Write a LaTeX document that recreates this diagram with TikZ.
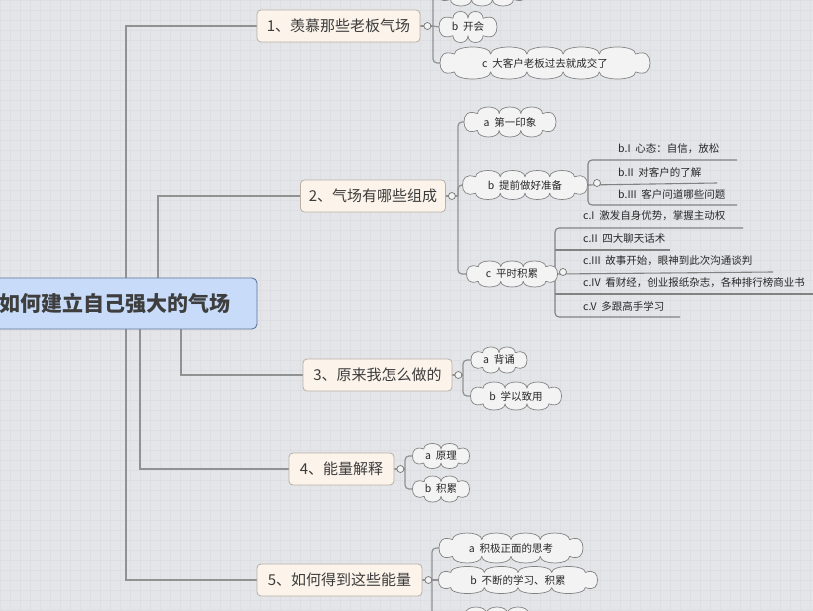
\documentclass[tikz,border=0pt]{standalone}
\usepackage{fontspec}
\setmainfont{Noto Sans CJK SC}
\pgfdeclarelayer{bglayer}
\pgfdeclarelayer{cloudlayer}
\pgfsetlayers{bglayer,cloudlayer,main}
\definecolor{bg}{RGB}{227,229,232}
\definecolor{gridc}{RGB}{220,222,225}
\definecolor{connc}{RGB}{145,145,145}
\definecolor{rootfill}{RGB}{200,220,250}
\definecolor{rootline}{RGB}{95,115,155}
\definecolor{roottext}{RGB}{62,62,62}
\definecolor{topfill}{RGB}{252,244,235}
\definecolor{topline}{RGB}{185,175,165}
\definecolor{toptext}{RGB}{60,60,60}
\definecolor{cloudfill}{RGB}{243,243,243}
\definecolor{cloudline}{RGB}{130,130,130}
\definecolor{txt}{RGB}{40,40,40}
% name, cx, cy, W, H, bumps, text
\newcommand\cloudnode[7]{%
  \node[cloudtext, minimum width=#4pt, minimum height=#5pt] (#1) at (#2,#3) {#7};
  \begin{pgfonlayer}{cloudlayer}
  \pgfmathsetmacro\cxa{#2-#4/2}\pgfmathsetmacro\cxb{#2+#4/2}%
  \pgfmathsetmacro\ch{#5*0.22}%
  \pgfmathsetmacro\ce{#5*0.45}%
  \pgfmathsetmacro\cbw{(#4-2*\ce)/#6}%
  \pgfmathsetmacro\cyt{#3-#5/2+\ch}%
  \pgfmathsetmacro\cyb{#3+#5/2-\ch}%
  \pgfmathsetmacro\ck{4/3*\ch}%
  \filldraw[cloudshape] (\cxa,#3)
     .. controls (\cxa,{#3-0.22*#5}) and ({\cxa+0.25*\ce},{\cyt-0.12*#5}) .. ({\cxa+\ce},\cyt)
     \foreach \ci in {1,...,#6} { .. controls ({\cxa+\ce+(\ci-1)*\cbw},{\cyt-\ck}) and ({\cxa+\ce+\ci*\cbw},{\cyt-\ck}) .. ({\cxa+\ce+\ci*\cbw},\cyt) }
     .. controls ({\cxb-0.25*\ce},{\cyt-0.12*#5}) and (\cxb,{#3-0.22*#5}) .. (\cxb,#3)
     .. controls (\cxb,{#3+0.22*#5}) and ({\cxb-0.25*\ce},{\cyb+0.12*#5}) .. ({\cxb-\ce},\cyb)
     \foreach \ci in {1,...,#6} { .. controls ({\cxb-\ce-(\ci-1)*\cbw},{\cyb+\ck}) and ({\cxb-\ce-\ci*\cbw},{\cyb+\ck}) .. ({\cxb-\ce-\ci*\cbw},\cyb) }
     .. controls ({\cxa+0.25*\ce},{\cyb+0.12*#5}) and (\cxa,{#3+0.22*#5}) .. cycle;
  \end{pgfonlayer}}
\begin{document}
\begin{tikzpicture}[x=1pt,y=-1pt,
  conn/.style={draw=connc, line width=1.2pt},
  uline/.style={draw=connc!90!black, line width=1.1pt, rounded corners=4pt},
  root/.style={rectangle, rounded corners=5pt, fill=rootfill, draw=rootline, line width=0.9pt,
    minimum width=284pt, minimum height=51pt, inner sep=0pt, text=roottext,
    font=\fontsize{21}{21}\selectfont\bfseries},
  topic/.style={rectangle, rounded corners=4pt, fill=topfill, draw=topline, line width=0.8pt,
    minimum height=32pt, inner sep=0pt, text=toptext, font=\fontsize{15}{15}\selectfont},
  cloudtext/.style={rectangle, inner sep=0pt, text=txt, font=\fontsize{10.5}{10.5}\selectfont},
  cloudshape/.style={fill=cloudfill, draw=cloudline, line width=0.7pt, line join=round},
  item/.style={anchor=west, inner sep=0pt, text=txt, font=\fontsize{10.5}{10.5}\selectfont},
  fold/.style={circle, minimum size=7pt, inner sep=0pt, fill=cloudfill, draw=connc!80!black, line width=0.7pt}
]
\clip (0,0) rectangle (813,610);
\begin{pgfonlayer}{bglayer}
\fill[bg] (0,0) rectangle (813,610);
\foreach \i in {0,10,...,810} \draw[gridc, line width=0.3pt] (\i,0) -- (\i,610);
\foreach \j in {0,10,...,610} \draw[gridc, line width=0.3pt] (0,\j) -- (813,\j);
\end{pgfonlayer}

% spine x positions
\coordinate (r1) at (126,0);
\coordinate (r2) at (158,0);
\coordinate (r3) at (181,0);
\coordinate (r4) at (140,0);
\coordinate (r5) at (126,0);
\coordinate (s1) at (433,0);
\coordinate (s2) at (458,0);
\coordinate (s3) at (463,0);
\coordinate (s4) at (405,0);
\coordinate (s5) at (432,0);
\coordinate (sb) at (588,0);
\coordinate (sc) at (555,0);

% root and main topics
\node[root] (root) at (115,303.5) {如何建立自己强大的气场};
\node[topic, minimum width=163pt] (t1) at (338.5,26) {1、羡慕那些老板气场};
\node[topic, minimum width=145pt] (t2) at (373,196) {2、气场有哪些组成};
\node[topic, minimum width=149pt] (t3) at (377.5,375) {3、原来我怎么做的};
\node[topic, minimum width=105pt] (t4) at (341.5,469) {4、能量解释};
\node[topic, minimum width=165pt] (t5) at (339.5,580) {5、如何得到这些能量};

% clouds
\cloudnode{c1a}{482}{-9}{90}{30}{3}{}
\cloudnode{c1b}{468}{27}{58}{31}{2}{b\ \ 开会}
\cloudnode{c1c}{545}{63}{210}{32}{5}{c\ \ 大客户老板过去就成交了}
\cloudnode{c2a}{510}{122}{92}{30}{3}{a\ \ 第一印象}
\cloudnode{c2b}{525}{185}{125}{29}{4}{b\ \ 提前做好准备}
\cloudnode{c2c}{512}{274}{91}{26}{3}{c\ \ 平时积累}
\cloudnode{c3a}{499}{360}{56}{26}{2}{a\ \ 背诵}
\cloudnode{c3b}{516}{396}{91}{28}{3}{b\ \ 学以致用}
\cloudnode{c4a}{441}{456}{57}{25}{2}{a\ \ 原理}
\cloudnode{c4b}{441}{489}{57}{26}{2}{b\ \ 积累}
\cloudnode{c5a}{511}{548}{144}{30}{4}{a\ \ 积极正面的思考}
\cloudnode{c5b}{518}{580}{159}{27}{4}{b\ \ 不断的学习、积累}
\cloudnode{c5c}{497}{622}{90}{30}{3}{}

\begin{pgfonlayer}{bglayer}
\draw[conn] (root.north -| r1) |- (t1.west);
\draw[conn] (root.north -| r2) |- (t2.west);
\draw[conn] (root.south -| r3) |- (t3.west);
\draw[conn] (root.south -| r4) |- (t4.west);
\draw[conn] (root.south -| r5) |- (t5.west);

\draw[conn] (t1.east) -- (s1 |- t1.east);
\draw[conn, rounded corners=4pt] (s1 |- t1.east) |- (c1a.west);
\draw[conn] (s1 |- t1.east) -- (c1b.west);
\draw[conn, rounded corners=4pt] (s1 |- t1.east) |- (c1c.west);

\draw[conn] (t2.east) -- (s2 |- t2.east);
\draw[conn, rounded corners=4pt] (s2 |- t2.east) |- (c2a.west);
\draw[conn, rounded corners=4pt] (s2 |- t2.east) |- (c2b.west);
\draw[conn, rounded corners=4pt] (s2 |- t2.east) |- (c2c.west);

\draw[conn] (t3.east) -- (s3 |- t3.east);
\draw[conn, rounded corners=4pt] (s3 |- t3.east) |- (c3a.west);
\draw[conn, rounded corners=4pt] (s3 |- t3.east) |- (c3b.west);

\draw[conn] (t4.east) -- (s4 |- t4.east);
\draw[conn, rounded corners=4pt] (s4 |- t4.east) |- (c4a.west);
\draw[conn, rounded corners=4pt] (s4 |- t4.east) |- (c4b.west);

\draw[conn] (t5.east) -- (s5 |- t5.east);
\draw[conn, rounded corners=4pt] (s5 |- t5.east) |- (c5a.west);
\draw[conn] (s5 |- t5.east) -- (c5b.west);
\draw[conn, rounded corners=4pt] (s5 |- t5.east) |- (c5c.west);

% b-items (underlined)
\coordinate (ubI) at (737,160);
\coordinate (ubII) at (717,183);
\coordinate (ubIII) at (737,205);
\draw[uline] (ubI) -- (sb |- ubI) |- (ubIII);
\draw[uline] (c2b.east) -- (ubII);

% c-items (underlined)
\coordinate (ucI) at (743,228);
\coordinate (ucII) at (670,250);
\coordinate (ucIII) at (773,272);
\coordinate (ucIV) at (830,294);
\coordinate (ucV) at (680,317);
\draw[uline] (ucI) -- (sc |- ucI) |- (ucV);
\draw[uline] (sc |- ucII) -- (ucII);
\draw[uline] (c2c.east) -- (ucIII);
\draw[uline] (sc |- ucIV) -- (ucIV);
\end{pgfonlayer}

\node[item] (bI) at (618,149) {b.I\ \ 心态：自信，放松};
\node[item] (bII) at (618,172) {b.II\ \ 对客户的了解};
\node[item] (bIII) at (618,194) {b.III\ \ 客户问道哪些问题};

\node[item] (cI) at (583,216) {c.I\ \ 激发自身优势，掌握主动权};
\node[item] (cII) at (583,239) {c.II\ \ 四大聊天话术};
\node[item] (cIII) at (583,261) {c.III\ \ 故事开始，眼神到此次沟通谈判};
\node[item] (cIV) at (583,283) {c.IV\ \ 看财经，创业报纸杂志，各种排行榜商业书};
\node[item] (cV) at (583,306) {c.V\ \ 多跟高手学习};

% fold circles
\node[fold] (f1) at ([xshift=7pt]t1.east) {};
\node[fold] (f2) at ([xshift=6pt]t2.east) {};
\node[fold] (f3) at ([xshift=6pt]t3.east) {};
\node[fold] (f4) at ([xshift=6pt]t4.east) {};
\node[fold] (f5) at ([xshift=6pt]t5.east) {};
\node[fold] (fb) at (597,183) {};
\node[fold] (fc) at (563,272) {};
\end{tikzpicture}
\end{document}
